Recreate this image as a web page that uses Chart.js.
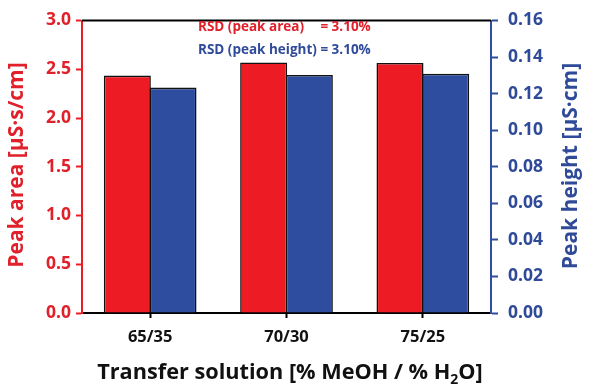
<!DOCTYPE html>
<html>
<head>
<meta charset="utf-8">
<script src="https://cdn.jsdelivr.net/npm/chart.js@4"></script>
<style>
html,body{margin:0;padding:0;background:#fff;}
#wrap{width:590px;height:392px;position:relative;}
</style>
</head>
<body>
<div id="wrap"><canvas id="c" width="590" height="392"></canvas></div>
<script>
const categories = ['65/35', '70/30', '75/25'];
const peakArea = [2.435, 2.57, 2.565];
const peakHeight = [0.1233, 0.1302, 0.1309];
const areaTicks = [0.0, 0.5, 1.0, 1.5, 2.0, 2.5, 3.0];
const heightTicks = [0.00, 0.02, 0.04, 0.06, 0.08, 0.10, 0.12, 0.14, 0.16];
const rsdLabels = ['RSD (peak area)', 'RSD (peak height)'];
const rsdValues = ['= 3.10%', '= 3.10%'];

const RED = '#ed1c24';
const RED_TXT = '#e0202a';
const BLUE = '#2f4d9e';
const BLUE_TXT = '#2e4a98';
const FONT = "'Open Sans', 'Liberation Sans', sans-serif";

const decor = {
  id: 'decor',
  afterDraw(chart) {
    const ctx = chart.ctx;
    const a = chart.chartArea;
    ctx.save();
    // top frame line
    ctx.strokeStyle = '#000';
    ctx.lineWidth = 2;
    ctx.beginPath();
    ctx.moveTo(a.left, a.top);
    ctx.lineTo(a.right, a.top);
    ctx.stroke();

    // RSD annotations
    ctx.font = 'bold 13.5px ' + FONT;
    ctx.textBaseline = 'middle';
    ctx.textAlign = 'left';
    const vx = 198 + ctx.measureText(rsdLabels[1] + ' ').width;
    ctx.fillStyle = RED_TXT;
    ctx.fillText(rsdLabels[0], 198, 27);
    ctx.fillText(rsdValues[0], vx, 27);
    ctx.fillStyle = BLUE_TXT;
    ctx.fillText(rsdLabels[1], 198, 50);
    ctx.fillText(rsdValues[1], vx, 50);

    // Left title
    ctx.font = 'bold 21px ' + FONT;
    ctx.fillStyle = RED_TXT;
    ctx.textAlign = 'center';
    ctx.save();
    ctx.translate(17, 165);
    ctx.rotate(-Math.PI / 2);
    ctx.fillText('Peak area [µS·s/cm]', 0, 0);
    ctx.restore();

    // Right title
    ctx.fillStyle = BLUE_TXT;
    ctx.save();
    ctx.translate(571, 166);
    ctx.rotate(-Math.PI / 2);
    ctx.fillText('Peak height [µS·cm]', 0, 0);
    ctx.restore();

    // X title with subscript
    const p1 = 'Transfer solution [% MeOH / % H';
    const p2 = '2';
    const p3 = 'O]';
    const bigF = 'bold 21.7px ' + FONT;
    const smallF = 'bold 14px ' + FONT;
    ctx.font = bigF;
    const w1 = ctx.measureText(p1).width;
    const w3 = ctx.measureText(p3).width;
    ctx.font = smallF;
    const w2 = ctx.measureText(p2).width;
    const total = w1 + w2 + w3;
    let x = 290 - total / 2;
    const y = 373;
    ctx.textAlign = 'left';
    ctx.fillStyle = '#111';
    ctx.font = bigF;
    ctx.fillText(p1, x, y);
    x += w1;
    ctx.font = smallF;
    ctx.fillText(p2, x, y + 7);
    x += w2;
    ctx.font = bigF;
    ctx.fillText(p3, x, y);
    ctx.restore();
  }
};

new Chart(document.getElementById('c'), {
  type: 'bar',
  data: {
    labels: categories,
    datasets: [
      {
        label: 'Peak area',
        data: peakArea,
        yAxisID: 'y',
        backgroundColor: RED,
        borderColor: '#111',
        borderWidth: 1.6,
        borderSkipped: 'start',
        barPercentage: 1.03,
        categoryPercentage: 0.67
      },
      {
        label: 'Peak height',
        data: peakHeight,
        yAxisID: 'y1',
        backgroundColor: BLUE,
        borderColor: '#111',
        borderWidth: 1.6,
        borderSkipped: 'start',
        barPercentage: 1.03,
        categoryPercentage: 0.67
      }
    ]
  },
  options: {
    responsive: false,
    animation: false,
    devicePixelRatio: 1,
    layout: { padding: { top: 18, left: 0, right: 0, bottom: 0 } },
    plugins: { legend: { display: false }, tooltip: { enabled: false } },
    scales: {
      x: {
        offset: true,
        grid: { offset: false, drawOnChartArea: false, drawTicks: true, tickLength: 5, tickWidth: 2, tickColor: '#000' },
        border: { display: true, color: '#000', width: 2 },
        ticks: { color: '#111', font: { family: FONT, size: 16.5, weight: 'bold' }, padding: 9, maxRotation: 0 },
        afterFit(s) { s.height = 79; }
      },
      y: {
        position: 'left',
        min: 0, max: 3,
        afterBuildTicks(s) { s.ticks = areaTicks.map(v => ({ value: v })); },
        grid: { drawOnChartArea: false, drawTicks: true, tickLength: 6, tickWidth: 2, tickColor: RED },
        border: { display: true, color: RED, width: 2 },
        ticks: { color: RED_TXT, font: { family: FONT, size: 17.5, weight: 'bold' }, padding: 5,
                 callback: v => Number(v).toFixed(1) },
        afterFit(s) { s.width = 82; }
      },
      y1: {
        position: 'right',
        min: 0, max: 0.16,
        afterBuildTicks(s) { s.ticks = heightTicks.map(v => ({ value: v })); },
        grid: { drawOnChartArea: false, drawTicks: true, tickLength: 7, tickWidth: 2, tickColor: BLUE },
        border: { display: true, color: BLUE, width: 2 },
        ticks: { color: BLUE_TXT, font: { family: FONT, size: 17.5, weight: 'bold' }, padding: 10,
                 callback: v => Number(v).toFixed(2) },
        afterFit(s) { s.width = 99; }
      }
    }
  },
  plugins: [decor]
});
</script>
</body>
</html>
